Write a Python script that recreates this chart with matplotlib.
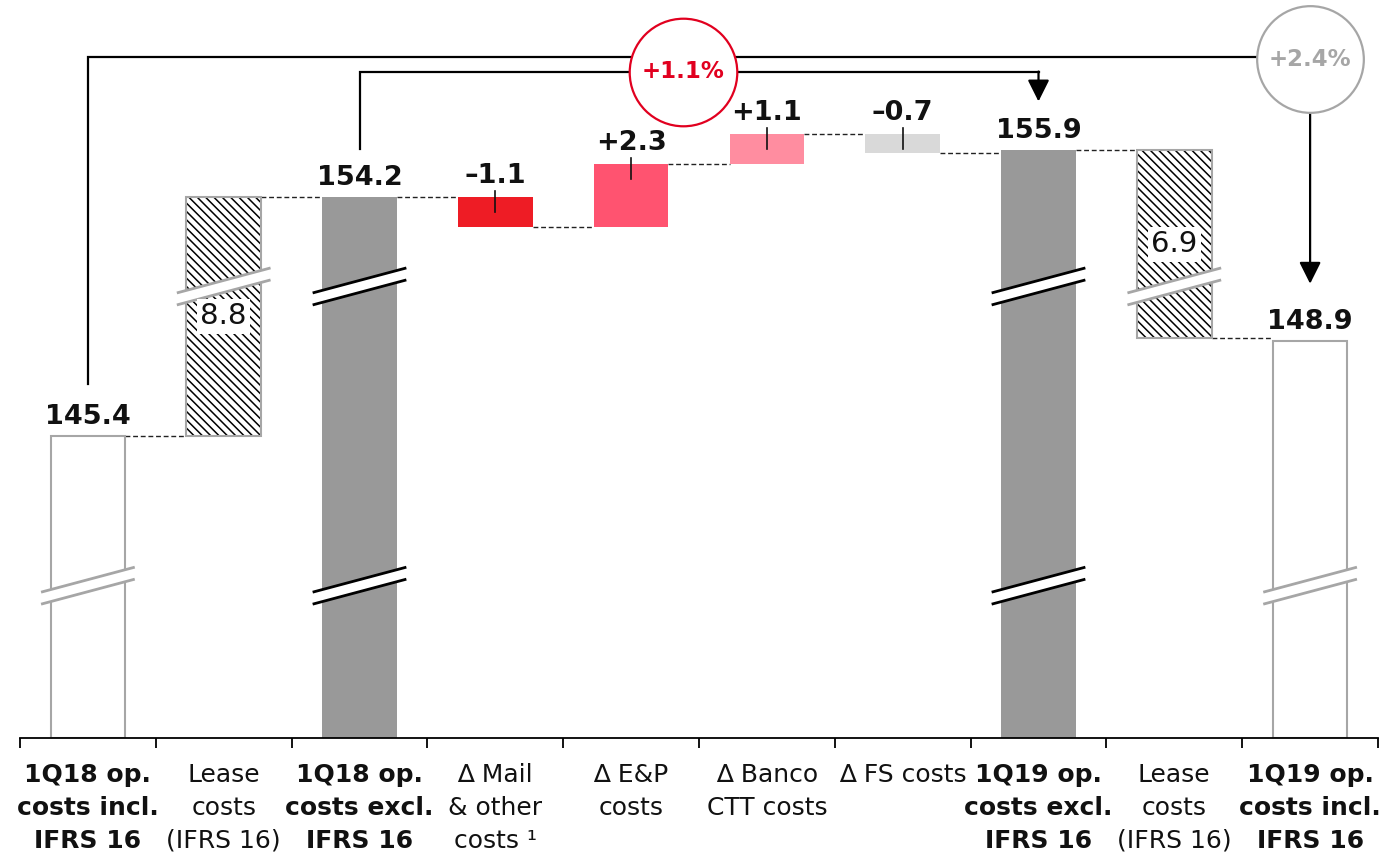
import numpy as np
import matplotlib.pyplot as plt
from matplotlib.patches import Polygon

plt.rcParams['hatch.linewidth'] = 1.1
plt.rcParams['hatch.color'] = 'black'

# data
categories = ['1Q18 op.\ncosts incl.\nIFRS 16', 'Lease\ncosts\n(IFRS 16)',
              '1Q18 op.\ncosts excl.\nIFRS 16', '\u2206 Mail\n& other\ncosts \u00b9',
              '\u2206 E&P\ncosts', '\u2206 Banco\nCTT costs', '\u2206 FS costs',
              '1Q19 op.\ncosts excl.\nIFRS 16', 'Lease\ncosts\n(IFRS 16)',
              '1Q19 op.\ncosts incl.\nIFRS 16']
kinds = ['total', 'lease', 'total', 'delta', 'delta', 'delta', 'delta', 'total', 'lease', 'total']
values = [145.4, 8.8, 154.2, -1.1, 2.3, 1.1, -0.7, 155.9, -6.9, 148.9]
labels = ['145.4', '8.8', '154.2', '\u20131.1', '+2.3', '+1.1', '\u20130.7', '155.9', '6.9', '148.9']
colors = ['white', 'hatch', '#999999', '#ee1c25', '#ff5370', '#ff8da0', '#d9d9d9', '#999999', 'hatch', 'white']
growth_excl = '+1.1%'
growth_incl = '+2.4%'
# axis is broken: where the double slashes sit
breaks_hi = [1, 2, 7, 8]
breaks_lo = [0, 2, 7, 9]

ymin, ymax = 134.3, 161.43
fig = plt.figure(figsize=(13.9, 8.61), dpi=100)
ax = fig.add_axes([20 / 1390, 123 / 861, 1358 / 1390, 738 / 861])
ax.set_xlim(-0.5, 9.5)
ax.set_ylim(ymin, ymax)
upp = (ymax - ymin) / 738.0  # data units per pixel
w = 0.55
x = np.arange(len(values))

bottoms, tops, ends = [], [], []
run = None
for k, v in zip(kinds, values):
    if k == 'total':
        b, t = ymin, v
        run = v
    else:
        b, t = min(run, run + v), max(run, run + v)
        run = run + v
    bottoms.append(b)
    tops.append(t)
    ends.append(run)

for i in range(len(values)):
    c = colors[i]
    if c == 'hatch':
        ax.bar(x[i], tops[i] - bottoms[i], w, bottom=bottoms[i], color='white',
               edgecolor='black', linewidth=0, hatch='\\\\\\\\', zorder=2)
        ax.bar(x[i], tops[i] - bottoms[i], w, bottom=bottoms[i], color='none',
               edgecolor='#a6a6a6', linewidth=1.5, zorder=3)
    elif c == 'white':
        ax.bar(x[i], tops[i] - bottoms[i], w, bottom=bottoms[i], color='white',
               edgecolor='#a6a6a6', linewidth=1.5, zorder=2)
    else:
        ax.bar(x[i], tops[i] - bottoms[i], w, bottom=bottoms[i], color=c,
               linewidth=0, zorder=2)

# dashed connectors
for i in range(len(values) - 1):
    ax.plot([x[i] + w / 2, x[i + 1] - w / 2], [ends[i], ends[i]], color='#222222',
            lw=1, ls=(0, (3.5, 2)), zorder=1)

# value labels
for i in range(len(values)):
    if kinds[i] == 'total':
        ax.text(x[i], tops[i] + 12 * upp, labels[i], ha='center', va='baseline',
                fontsize=19.5, fontweight='bold', color='#111111', zorder=5)
    elif kinds[i] == 'delta':
        ax.text(x[i], tops[i] + 14 * upp, labels[i], ha='center', va='baseline',
                fontsize=19.5, fontweight='bold', color='#111111', zorder=5)
        ax.plot([x[i], x[i]], [tops[i] - 15 * upp, tops[i] + 6 * upp],
                color='#111111', lw=1.2, zorder=4)
    else:
        ax.text(x[i], (tops[i] + bottoms[i]) / 2, labels[i], ha='center',
                va='center', fontsize=21, color='#111111', zorder=8,
                bbox=dict(boxstyle='square,pad=0.12', fc='white', ec='none'))

# break marks
def draw_break(xc, yc, lc):
    dx = 0.345
    dy = 12.5 * upp
    gap = 6 * upp
    poly = Polygon([(xc - dx, yc - dy - gap), (xc + dx, yc + dy - gap),
                    (xc + dx, yc + dy + gap), (xc - dx, yc - dy + gap)],
                   closed=True, fc='white', ec='none', zorder=6)
    ax.add_patch(poly)
    for s in (-gap, gap):
        ax.plot([xc - dx, xc + dx], [yc - dy + s, yc + dy + s], color=lc, lw=2,
                zorder=7, solid_capstyle='butt')

for i in breaks_hi:
    draw_break(x[i], 150.9, 'black' if colors[i] == '#999999' else '#a6a6a6')
for i in breaks_lo:
    draw_break(x[i], 139.9, 'black' if colors[i] == '#999999' else '#a6a6a6')

# growth arrows
arrow_kw = dict(arrowstyle='-|>,head_length=0.6,head_width=0.3', mutation_scale=22,
                color='black', lw=1.6, shrinkA=0, shrinkB=0)
lvl_out, lvl_in = 159.35, 158.8
ax.plot([x[0], x[0], x[9]], [values[0] + 1.9, lvl_out, lvl_out], color='black',
        lw=1.6, zorder=3, solid_joinstyle='miter')
ax.annotate('', xy=(x[9], values[9] + 2.1), xytext=(x[9], lvl_out), arrowprops=arrow_kw)
ax.plot([x[2], x[2], x[7]], [values[2] + 1.75, lvl_in, lvl_in], color='black',
        lw=1.6, zorder=3, solid_joinstyle='miter')
ax.annotate('', xy=(x[7], values[7] + 1.8), xytext=(x[7], lvl_in), arrowprops=arrow_kw)

ax.scatter([4.38], [lvl_in], s=6000, facecolor='white', edgecolor='#e1001f',
           linewidth=1.6, zorder=8)
ax.text(4.38, lvl_in, growth_excl, ha='center', va='center', fontsize=16.5,
        fontweight='bold', color='#e1001f', zorder=9)
ax.scatter([x[9]], [lvl_out - 0.1], s=5900, facecolor='white', edgecolor='#a6a6a6',
           linewidth=1.6, zorder=8)
ax.text(x[9], lvl_out - 0.1, growth_incl, ha='center', va='center', fontsize=16.5,
        fontweight='bold', color='#a6a6a6', zorder=9)

# axes styling
for s in ['top', 'right', 'left']:
    ax.spines[s].set_visible(False)
ax.spines['bottom'].set_linewidth(1.3)
ax.set_yticks([])
ax.set_xticks(np.arange(-0.5, 10, 1))
ax.set_xticklabels([])
ax.tick_params(axis='x', which='major', length=7, width=1.3, color='black')
ax.set_xticks(x, minor=True)
ax.set_xticklabels(categories, minor=True)
ax.tick_params(axis='x', which='minor', length=0, pad=18)
for i, lab in enumerate(ax.get_xticklabels(minor=True)):
    lab.set_fontsize(18)
    lab.set_linespacing(1.47)
    lab.set_color('#111111')
    if kinds[i] == 'total':
        lab.set_fontweight('bold')

fig.savefig('out.png', dpi=100)
